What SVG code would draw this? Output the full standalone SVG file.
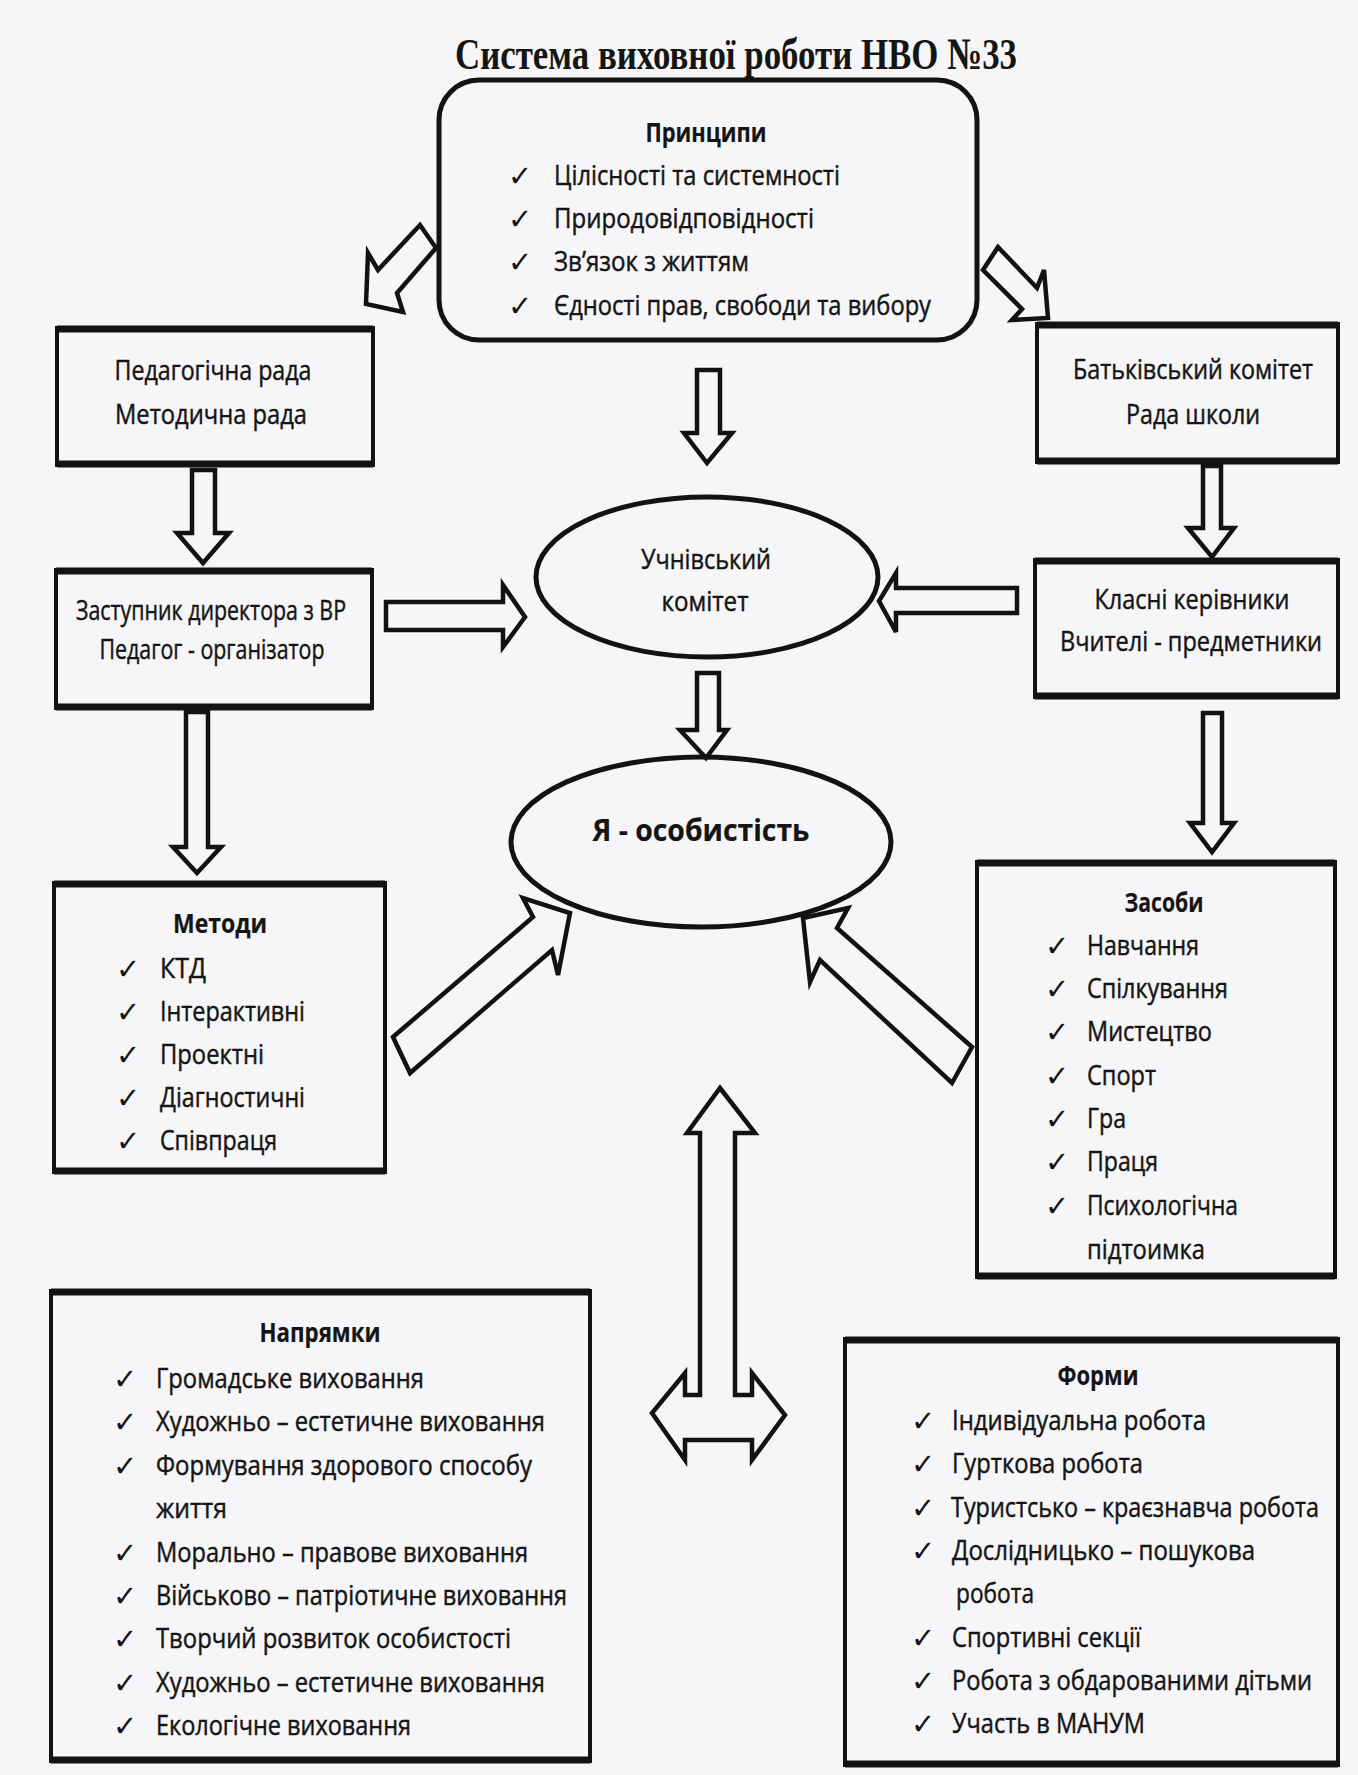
<svg xmlns="http://www.w3.org/2000/svg" width="1358" height="1775" viewBox="0 0 1358 1775">
<style>
.bg{fill:#f6f6f8}
.t{font-family:"Open Sans","Noto Sans",sans-serif;font-size:26.5px;fill:#151515;stroke:#151515;stroke-width:0.45}
.b{font-weight:bold;stroke-width:0.2}
.m{text-anchor:middle}
.ck{font-family:"DejaVu Sans",sans-serif;font-size:29px;fill:#151515}
.box{fill:none;stroke:#121212;stroke-width:4}
.edge{stroke:#121212;stroke-width:7}
.el{fill:none;stroke:#121212;stroke-width:5}
.arr{fill:#f6f6f8;stroke:#121212;stroke-width:4.5;stroke-linejoin:miter}
.title{font-family:"Liberation Serif","Times New Roman",serif;font-size:45px;font-weight:bold;fill:#151515;text-anchor:middle}
</style>
<rect class="bg" x="0" y="0" width="1358" height="1775"/>

<text class="title" x="736" y="69" textLength="562" lengthAdjust="spacingAndGlyphs">Система виховної роботи НВО №33</text>

<g id="connectors">
  <polygon class="arr" points="420,225 436,248 397,293 403,312 366,304 368,253 378,270"/>
  <polygon class="arr" points="998,247 983,270 1022,309 1012,320 1048,318 1044,270 1037,288"/>
  <polygon class="arr" points="697,370 720,370 720,433 732,433 707,463 684,433 697,433"/>
  <polygon class="arr" points="192,470 215,470 215,533 229,533 203,563 177,533 192,533"/>
  <polygon class="arr" points="386,602 503,602 503,585 525,617 503,647 503,630 386,630"/>
  <polygon class="arr" points="1203,466 1221,466 1221,528 1234,528 1212,557 1188,528 1203,528"/>
  <polygon class="arr" points="1017,588 896,588 896,573 879,601 896,632 896,613 1017,613"/>
  <polygon class="arr" points="697,673 719,673 719,730 727,730 706,758 680,730 697,730"/>
  <polygon class="arr" points="186,712 208,712 208,847 221,847 197,873 173,847 186,847"/>
  <polygon class="arr" points="1203,713 1222,713 1222,823 1234,823 1212,852 1190,823 1203,823"/>
  <polygon class="arr" points="393,1037 533,917 523,898 570,913 558,975 552,950 410,1073"/>
  <polygon class="arr" points="803,918 848,908 837,928 972,1047 952,1083 820,960 810,982"/>
  <polygon class="arr" points="720,1088 755,1133 735,1133 735,1395 752,1395 752,1373 785,1415 752,1460 752,1440 685,1440 685,1460 652,1413 685,1373 685,1395 700,1395 700,1133 687,1133"/>
</g>

<g id="principles">
  <rect x="439" y="80" width="538" height="260" rx="40" ry="40" fill="none" stroke="#121212" stroke-width="5"/>
  <text class="t b m" x="706" y="142" textLength="121" lengthAdjust="spacingAndGlyphs">Принципи</text>
  <text class="ck" x="508" y="186">✓</text>
  <text class="t" x="554" y="185" textLength="286" lengthAdjust="spacingAndGlyphs">Цілісності та системності</text>
  <text class="ck" x="508" y="229">✓</text>
  <text class="t" x="554" y="228" textLength="260" lengthAdjust="spacingAndGlyphs">Природовідповідності</text>
  <text class="ck" x="508" y="272">✓</text>
  <text class="t" x="554" y="271" textLength="195" lengthAdjust="spacingAndGlyphs">Зв’язок з життям</text>
  <text class="ck" x="508" y="316">✓</text>
  <text class="t" x="554" y="315" textLength="377" lengthAdjust="spacingAndGlyphs">Єдності прав, свободи та вибору</text>
</g>

<g id="ped-rada">
  <rect class="box" x="57" y="328" width="316" height="137"/>
  <line class="edge" x1="57" y1="329" x2="373" y2="329"/>
  <line class="edge" x1="57" y1="464" x2="373" y2="464"/>
  <text class="t m" x="213" y="380" textLength="197" lengthAdjust="spacingAndGlyphs">Педагогічна рада</text>
  <text class="t m" x="211" y="424" textLength="192" lengthAdjust="spacingAndGlyphs">Методична рада</text>
</g>

<g id="batk-komitet">
  <rect class="box" x="1037" y="324" width="301" height="138"/>
  <line class="edge" x1="1037" y1="325" x2="1338" y2="325"/>
  <line class="edge" x1="1037" y1="461" x2="1338" y2="461"/>
  <text class="t m" x="1193" y="379" textLength="240" lengthAdjust="spacingAndGlyphs">Батьківський комітет</text>
  <text class="t m" x="1193" y="424" textLength="134" lengthAdjust="spacingAndGlyphs">Рада школи</text>
</g>

<g id="uchn-komitet">
  <ellipse class="el" cx="707" cy="577" rx="171" ry="80"/>
  <text class="t m" x="706" y="569" textLength="130" lengthAdjust="spacingAndGlyphs">Учнівський</text>
  <text class="t m" x="705" y="611" textLength="87" lengthAdjust="spacingAndGlyphs">комітет</text>
</g>

<g id="zastupnyk">
  <rect class="box" x="56" y="570" width="316" height="138"/>
  <line class="edge" x1="56" y1="571" x2="372" y2="571"/>
  <line class="edge" x1="56" y1="707" x2="372" y2="707"/>
  <text class="t m" x="211" y="620" textLength="270" lengthAdjust="spacingAndGlyphs">Заступник директора з ВР</text>
  <text class="t m" x="212" y="659" textLength="225" lengthAdjust="spacingAndGlyphs">Педагог - організатор</text>
</g>

<g id="klasni">
  <rect class="box" x="1035" y="560" width="303" height="137"/>
  <line class="edge" x1="1035" y1="561" x2="1338" y2="561"/>
  <line class="edge" x1="1035" y1="696" x2="1338" y2="696"/>
  <text class="t m" x="1192" y="609" textLength="195" lengthAdjust="spacingAndGlyphs">Класні керівники</text>
  <text class="t m" x="1191" y="651" textLength="262" lengthAdjust="spacingAndGlyphs">Вчителі - предметники</text>
</g>

<g id="ya-osobystist">
  <ellipse class="el" cx="701" cy="842" rx="190" ry="85"/>
  <text class="t b m" x="701" y="841" style="font-size:31px" textLength="217" lengthAdjust="spacingAndGlyphs">Я - особистість</text>
</g>

<g id="metody">
  <rect class="box" x="54" y="883" width="331" height="289"/>
  <line class="edge" x1="54" y1="884" x2="385" y2="884"/>
  <line class="edge" x1="54" y1="1171" x2="385" y2="1171"/>
  <text class="t b m" x="220" y="933" textLength="94" lengthAdjust="spacingAndGlyphs">Методи</text>
  <text class="ck" x="116" y="979">✓</text>
  <text class="t" x="160" y="978" textLength="46" lengthAdjust="spacingAndGlyphs">КТД</text>
  <text class="ck" x="116" y="1022">✓</text>
  <text class="t" x="160" y="1021" textLength="145" lengthAdjust="spacingAndGlyphs">Інтерактивні</text>
  <text class="ck" x="116" y="1065">✓</text>
  <text class="t" x="160" y="1064" textLength="104" lengthAdjust="spacingAndGlyphs">Проектні</text>
  <text class="ck" x="116" y="1108">✓</text>
  <text class="t" x="160" y="1107" textLength="145" lengthAdjust="spacingAndGlyphs">Діагностичні</text>
  <text class="ck" x="116" y="1151">✓</text>
  <text class="t" x="160" y="1150" textLength="117" lengthAdjust="spacingAndGlyphs">Співпраця</text>
</g>

<g id="zasoby">
  <rect class="box" x="977" y="862" width="358" height="415"/>
  <line class="edge" x1="977" y1="863" x2="1335" y2="863"/>
  <line class="edge" x1="977" y1="1276" x2="1335" y2="1276"/>
  <text class="t b m" x="1164" y="912" textLength="79" lengthAdjust="spacingAndGlyphs">Засоби</text>
  <text class="ck" x="1045" y="956">✓</text>
  <text class="t" x="1087" y="955" textLength="112" lengthAdjust="spacingAndGlyphs">Навчання</text>
  <text class="ck" x="1045" y="999">✓</text>
  <text class="t" x="1087" y="998" textLength="141" lengthAdjust="spacingAndGlyphs">Спілкування</text>
  <text class="ck" x="1045" y="1042">✓</text>
  <text class="t" x="1087" y="1041" textLength="125" lengthAdjust="spacingAndGlyphs">Мистецтво</text>
  <text class="ck" x="1045" y="1086">✓</text>
  <text class="t" x="1087" y="1085" textLength="69" lengthAdjust="spacingAndGlyphs">Спорт</text>
  <text class="ck" x="1045" y="1129">✓</text>
  <text class="t" x="1087" y="1128" textLength="39" lengthAdjust="spacingAndGlyphs">Гра</text>
  <text class="ck" x="1045" y="1172">✓</text>
  <text class="t" x="1087" y="1171" textLength="71" lengthAdjust="spacingAndGlyphs">Праця</text>
  <text class="ck" x="1045" y="1216">✓</text>
  <text class="t" x="1087" y="1215" textLength="151" lengthAdjust="spacingAndGlyphs">Психологічна</text>
  <text class="t" x="1087" y="1259" textLength="118" lengthAdjust="spacingAndGlyphs">підтоимка</text>
</g>

<g id="napryamky">
  <rect class="box" x="51" y="1291" width="539" height="470"/>
  <line class="edge" x1="51" y1="1292" x2="590" y2="1292"/>
  <line class="edge" x1="51" y1="1760" x2="590" y2="1760"/>
  <text class="t b m" x="320" y="1342" textLength="121" lengthAdjust="spacingAndGlyphs">Напрямки</text>
  <text class="ck" x="113" y="1389">✓</text>
  <text class="t" x="156" y="1388" textLength="268" lengthAdjust="spacingAndGlyphs">Громадське виховання</text>
  <text class="ck" x="113" y="1432">✓</text>
  <text class="t" x="156" y="1431" textLength="389" lengthAdjust="spacingAndGlyphs">Художньо – естетичне виховання</text>
  <text class="ck" x="113" y="1476">✓</text>
  <text class="t" x="156" y="1475" textLength="376" lengthAdjust="spacingAndGlyphs">Формування здорового способу</text>
  <text class="t" x="156" y="1518" textLength="71" lengthAdjust="spacingAndGlyphs">життя</text>
  <text class="ck" x="113" y="1563">✓</text>
  <text class="t" x="156" y="1562" textLength="372" lengthAdjust="spacingAndGlyphs">Морально – правове виховання</text>
  <text class="ck" x="113" y="1606">✓</text>
  <text class="t" x="156" y="1605" textLength="411" lengthAdjust="spacingAndGlyphs">Військово – патріотичне виховання</text>
  <text class="ck" x="113" y="1649">✓</text>
  <text class="t" x="156" y="1648" textLength="355" lengthAdjust="spacingAndGlyphs">Творчий розвиток особистості</text>
  <text class="ck" x="113" y="1693">✓</text>
  <text class="t" x="156" y="1692" textLength="389" lengthAdjust="spacingAndGlyphs">Художньо – естетичне виховання</text>
  <text class="ck" x="113" y="1736">✓</text>
  <text class="t" x="156" y="1735" textLength="255" lengthAdjust="spacingAndGlyphs">Екологічне виховання</text>
</g>

<g id="formy">
  <rect class="box" x="845" y="1339" width="493" height="426"/>
  <line class="edge" x1="845" y1="1340" x2="1338" y2="1340"/>
  <line class="edge" x1="845" y1="1764" x2="1338" y2="1764"/>
  <text class="t b m" x="1098" y="1385" textLength="81" lengthAdjust="spacingAndGlyphs">Форми</text>
  <text class="ck" x="911" y="1431">✓</text>
  <text class="t" x="952" y="1430" textLength="254" lengthAdjust="spacingAndGlyphs">Індивідуальна робота</text>
  <text class="ck" x="911" y="1474">✓</text>
  <text class="t" x="952" y="1473" textLength="191" lengthAdjust="spacingAndGlyphs">Гурткова робота</text>
  <text class="ck" x="911" y="1518">✓</text>
  <text class="t" x="951" y="1517" textLength="368" lengthAdjust="spacingAndGlyphs">Туристсько – краєзнавча робота</text>
  <text class="ck" x="911" y="1561">✓</text>
  <text class="t" x="952" y="1560" textLength="303" lengthAdjust="spacingAndGlyphs">Дослідницько – пошукова</text>
  <text class="t" x="956" y="1603" textLength="78" lengthAdjust="spacingAndGlyphs">робота</text>
  <text class="ck" x="911" y="1648">✓</text>
  <text class="t" x="952" y="1647" textLength="189" lengthAdjust="spacingAndGlyphs">Спортивні секції</text>
  <text class="ck" x="911" y="1691">✓</text>
  <text class="t" x="952" y="1690" textLength="360" lengthAdjust="spacingAndGlyphs">Робота з обдарованими дітьми</text>
  <text class="ck" x="911" y="1734">✓</text>
  <text class="t" x="952" y="1733" textLength="193" lengthAdjust="spacingAndGlyphs">Участь в МАНУМ</text>
</g>
</svg>
